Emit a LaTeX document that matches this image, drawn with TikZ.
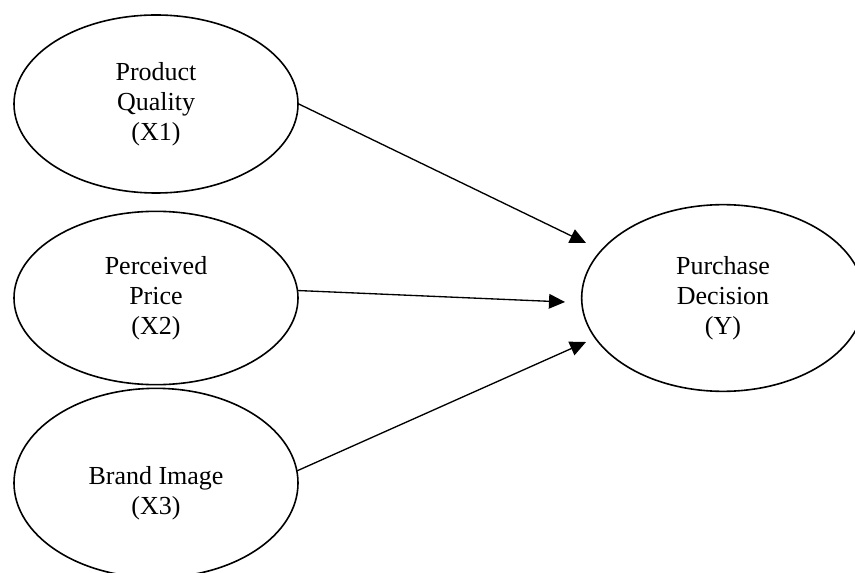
\documentclass[tikz,border=0pt]{standalone}
\usepackage{fontspec}
\setmainfont{Liberation Serif}
\usetikzlibrary{shapes.geometric,arrows.meta}

\begin{document}
\begin{tikzpicture}[x=0.75pt,y=-0.75pt,line cap=round,line join=round,
  varfont/.style={font=\fontsize{19.5}{22.5}\selectfont,align=center},
  latent/.style={draw,ellipse,line width=1.2pt,inner sep=0pt,minimum width=213pt,varfont},
  effect/.style={-{Triangle[length=12pt,width=11pt]},line width=1pt}]
\useasboundingbox (0,0) rectangle (855,573);
\clip (0,0) rectangle (855,573);
% exogenous variables
\node[latent,minimum height=133.5pt] (x1) at (156,104) {Product\\Quality\\(X1)};
\node[latent,minimum height=130pt] (x2) at (156,298) {Perceived\\Price\\(X2)};
\node[latent,minimum height=142pt,
  label={[varfont,yshift=-8pt]center:Brand Image\\(X3)}] (x3) at (156,483) {};
% endogenous variable
\node[latent,minimum height=140pt,minimum width=212pt] (y) at (723,298) {Purchase\\Decision\\(Y)};
% arrow tips
\coordinate (t1) at (586,243);
\coordinate (t2) at (565,302);
\coordinate (t3) at (586,342);
\draw[effect] (x1.east) -- (t1);
\draw[effect] (x2.3) -- (t2);
\draw[effect] (x3.5) -- (t3);
\end{tikzpicture}
\end{document}
